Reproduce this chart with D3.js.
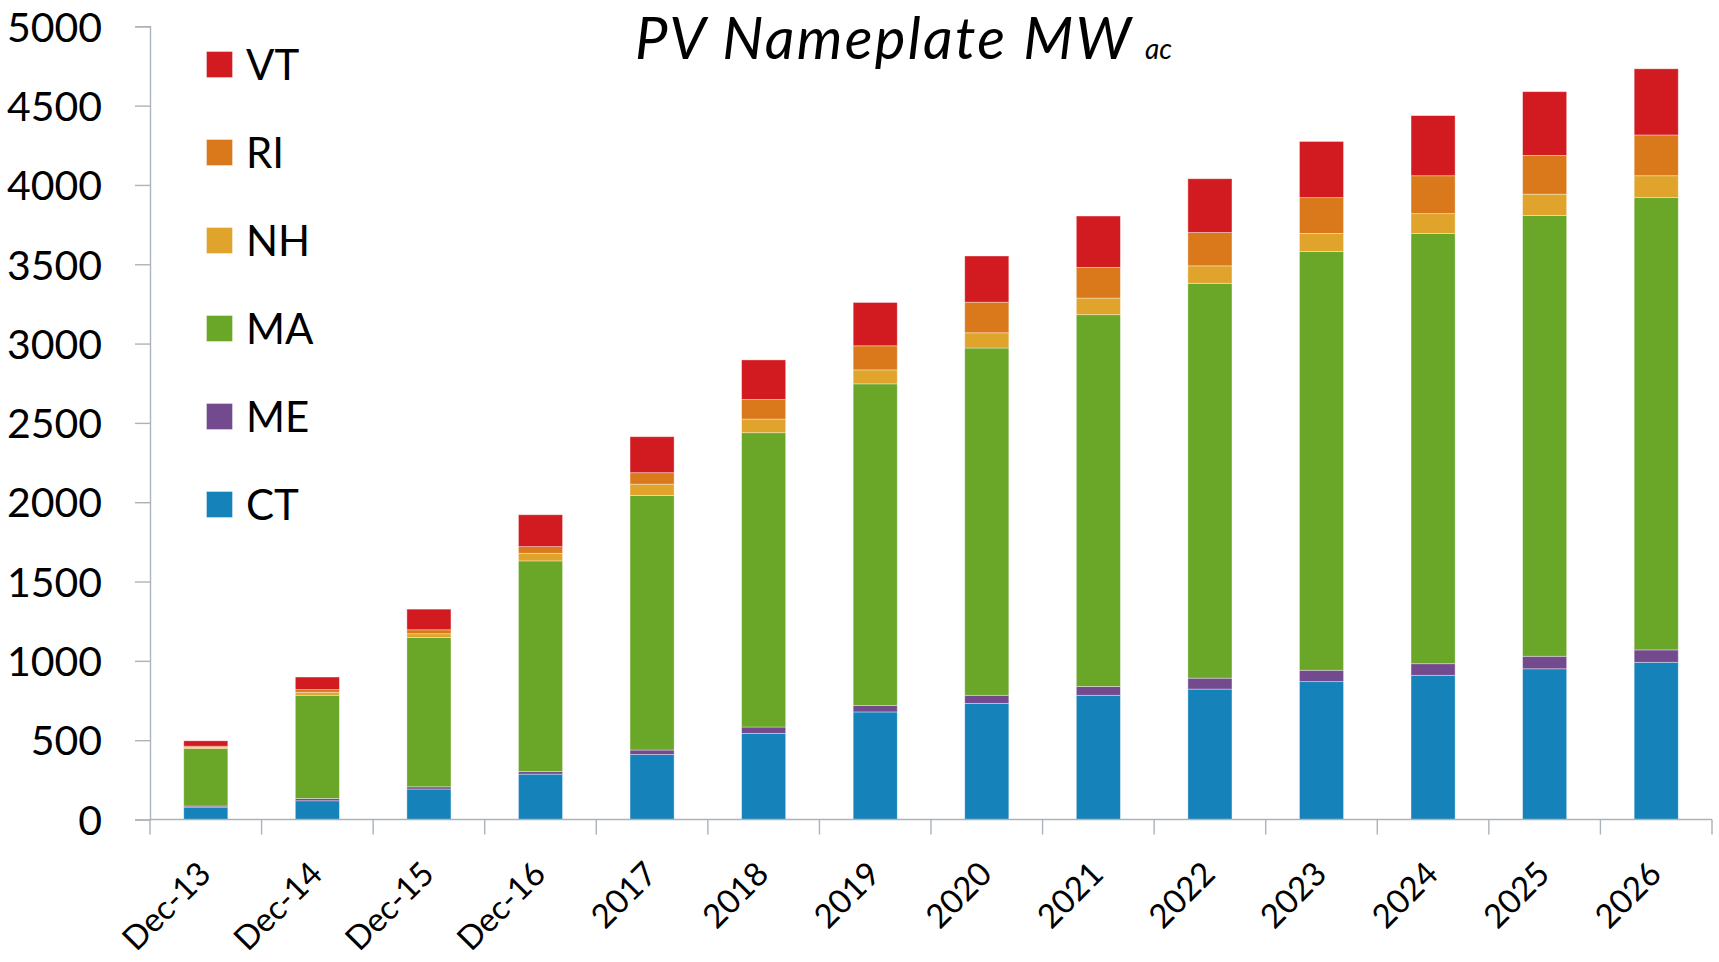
<!DOCTYPE html>
<html>
<head>
<meta charset="utf-8">
<script src="https://cdn.jsdelivr.net/npm/d3@7"></script>
<style>
  html, body { margin: 0; padding: 0; background: #fff; }
  svg { display: block; }
  text { font-family: Lato, "Open Sans", "DejaVu Sans", sans-serif; fill: #000; }
</style>
</head>
<body>
<svg id="chart" width="1719" height="962"></svg>
<script>
// ---- data ----
const categories = ["Dec-13","Dec-14","Dec-15","Dec-16","2017","2018","2019","2020","2021","2022","2023","2024","2025","2026"];
const seriesNames = ["CT","ME","MA","NH","RI","VT"];
const CT = [78, 118, 192, 286, 410, 543, 678, 732, 783, 822, 869, 909, 950, 991];
const ME = [7, 15, 14, 17, 28, 40, 40, 51, 56, 69, 72, 73, 79, 78];
const MA = [362, 650, 942, 1327, 1604, 1855, 2028, 2189, 2343, 2489, 2640, 2712, 2778, 2851];
const NH = [7, 19, 23, 48, 72, 86, 88, 96, 105, 110, 113, 125, 135, 138];
const RI = [8, 17, 25, 42, 72, 124, 152, 193, 193, 210, 226, 239, 244, 257];
const VT = [34, 79, 130, 201, 227, 249, 273, 291, 324, 339, 354, 379, 402, 417];
const yTicks = [0, 500, 1000, 1500, 2000, 2500, 3000, 3500, 4000, 4500, 5000];
const legendOrder = ["VT","RI","NH","MA","ME","CT"];
const colors = {CT:"#1583BA", ME:"#744A8F", MA:"#6AA627", NH:"#E0A42C", RI:"#DA791B", VT:"#D21B21"};

const seriesData = {CT, ME, MA, NH, RI, VT};
const rows = categories.map((c, i) => {
  const r = {cat: c};
  seriesNames.forEach(s => r[s] = seriesData[s][i]);
  return r;
});

// ---- layout ----
const svg = d3.select("#chart");
const axisColor = "#aab3bb";
const x = d3.scaleBand().domain(categories).range([150, 1712]).padding(0);
const y = d3.scaleLinear().domain([0, 5000]).range([819.5, 26.3]);
const barW = x.bandwidth() * 0.395;

const stack = d3.stack().keys(seriesNames)(rows);

// bars
const g = svg.append("g");
stack.forEach(layer => {
  g.append("g")
    .attr("fill", colors[layer.key])
    .selectAll("rect")
    .data(layer)
    .join("rect")
    .attr("x", d => x(d.data.cat) + (x.bandwidth() - barW) / 2)
    .attr("width", barW)
    .attr("y", d => y(d[1]))
    .attr("height", d => y(d[0]) - y(d[1]))
    .attr("stroke", "rgba(255,255,255,0.45)")
    .attr("stroke-width", 0.8);
});

// y axis
const yAxis = svg.append("g")
  .attr("transform", "translate(150,0)")
  .call(d3.axisLeft(y).tickValues(yTicks).tickSize(15).tickPadding(33).tickFormat(d3.format("d")));
yAxis.select(".domain").attr("stroke", axisColor).attr("stroke-width", 1.4);
yAxis.selectAll(".tick line").attr("stroke", axisColor).attr("stroke-width", 1.4);
yAxis.selectAll(".tick text")
  .attr("font-size", 41)
  .attr("dy", "0.36em")
  .style("font-family", "Lato, 'Open Sans', sans-serif")
  .attr("fill", "#000");

// x axis: line plus boundary ticks
const xg = svg.append("g");
xg.append("line")
  .attr("x1", 150).attr("x2", 1712)
  .attr("y1", y(0)).attr("y2", y(0))
  .attr("stroke", axisColor).attr("stroke-width", 1.4);
const boundaries = categories.map(c => x(c)).concat([x(categories[categories.length - 1]) + x.bandwidth()]);
xg.selectAll("line.tk")
  .data(boundaries)
  .join("line")
  .attr("class", "tk")
  .attr("x1", d => d).attr("x2", d => d)
  .attr("y1", y(0)).attr("y2", y(0) + 15)
  .attr("stroke", axisColor).attr("stroke-width", 1.4);
xg.selectAll("text")
  .data(categories)
  .join("text")
  .attr("text-anchor", "end")
  .attr("font-size", 33)
  .attr("transform", d => `translate(${x(d) + x.bandwidth() / 2 + 7},876) rotate(-45)`)
  .text(d => d);

// legend
const leg = svg.append("g");
legendOrder.forEach((k, i) => {
  const cy = 64.5 + i * 88;
  leg.append("rect")
    .attr("x", 206.5).attr("y", cy - 13)
    .attr("width", 26).attr("height", 26)
    .attr("fill", colors[k])
    .attr("stroke", "rgba(255,255,255,0.45)").attr("stroke-width", 0.8);
  leg.append("text")
    .attr("x", 246).attr("y", cy + 15)
    .attr("font-size", 42)
    .text(k);
});

// title
svg.append("text")
  .attr("x", 635).attr("y", 58.5)
  .attr("font-size", 58)
  .attr("font-style", "italic")
  .attr("textLength", 496)
  .attr("lengthAdjust", "spacing")
  .text("PV Nameplate MW");
svg.append("text")
  .attr("x", 1145).attr("y", 58.5)
  .attr("font-size", 28)
  .attr("font-style", "italic")
  .text("ac");
</script>
</body>
</html>
